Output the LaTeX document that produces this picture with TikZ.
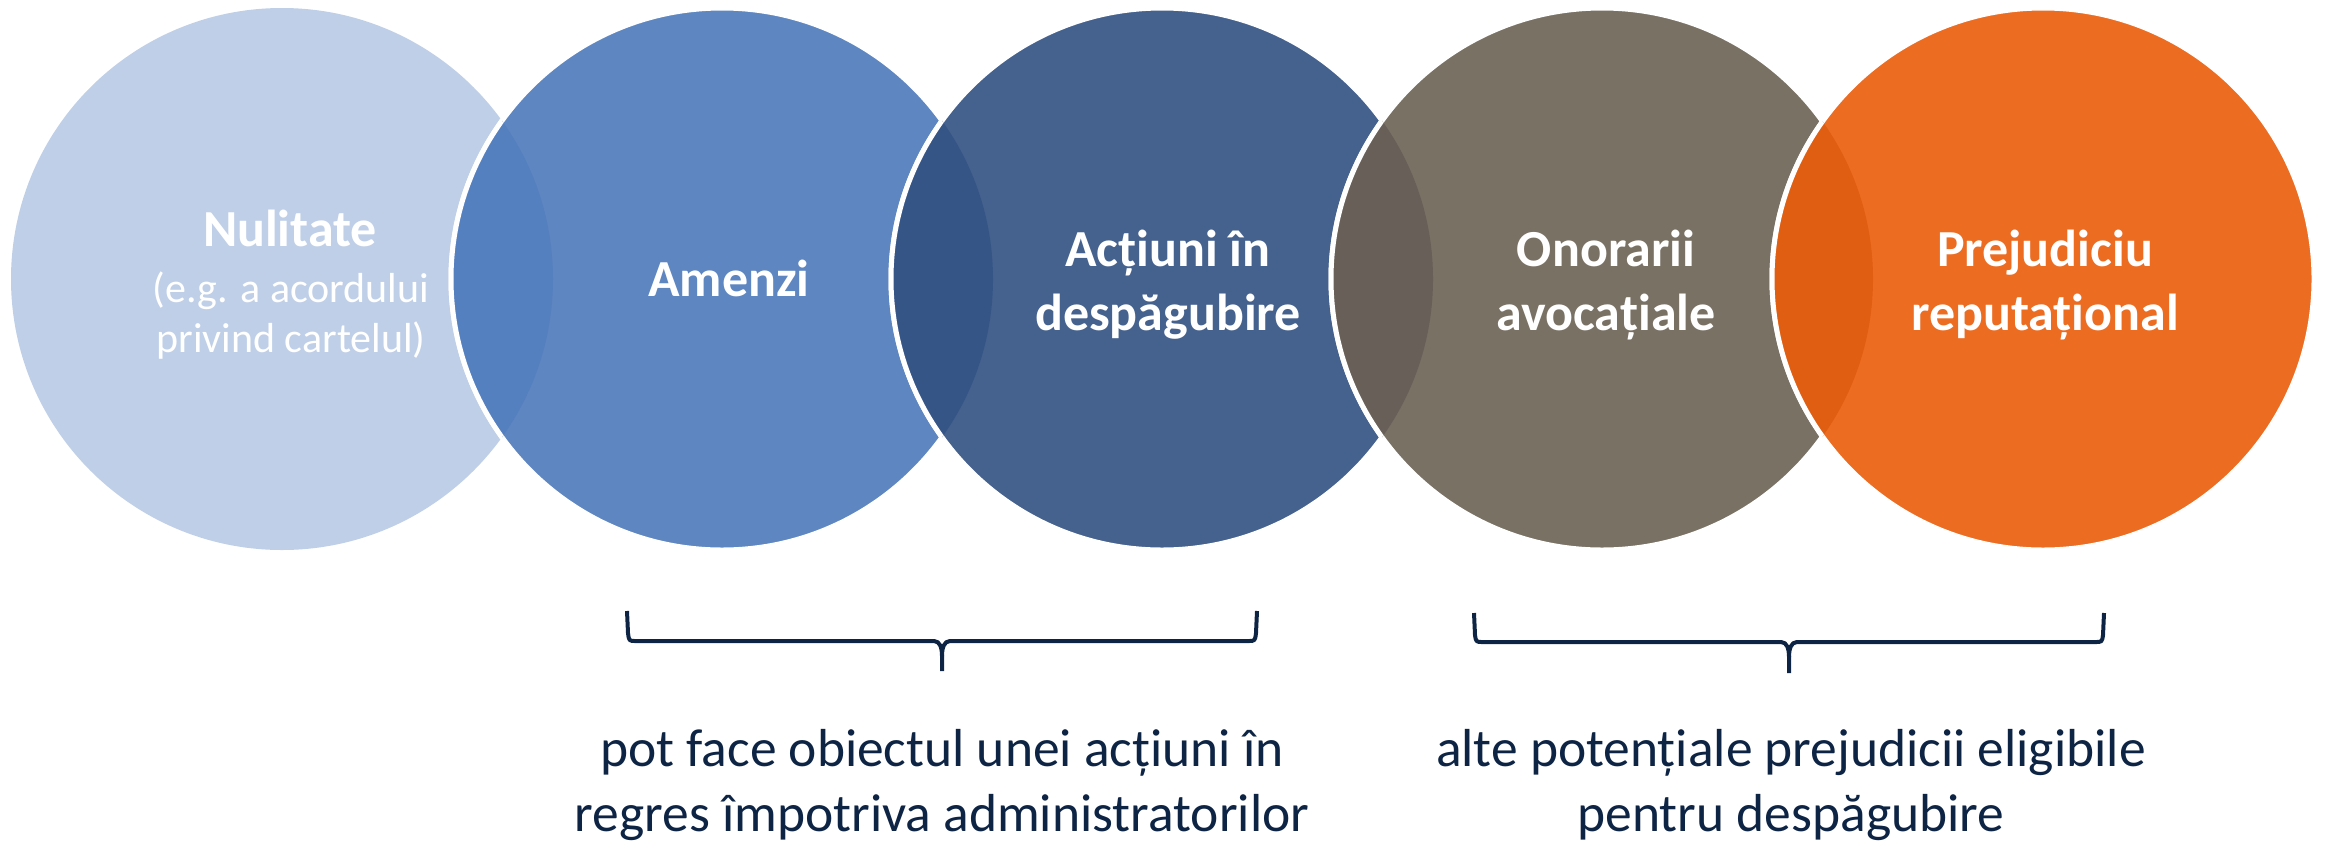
\documentclass[tikz,border=0pt]{standalone}
\usepackage{fontspec}
\setmainfont{Carlito}
\definecolor{cA}{HTML}{BFCFE7}
\definecolor{cB}{HTML}{5E86C1}
\definecolor{cC}{HTML}{45628E}
\definecolor{cD}{HTML}{7A7165}
\definecolor{cE}{HTML}{EC6C22}
\definecolor{lAB}{HTML}{5580BF}
\definecolor{lBC}{HTML}{365587}
\definecolor{lCD}{HTML}{675F58}
\definecolor{lDE}{HTML}{E05E12}
\definecolor{navy}{HTML}{0D2444}
\tikzset{
  ring/.style={draw=white, line width=5pt},
  ttl/.style={text=white, font=\bfseries\fontsize{52}{64}\selectfont, align=center, inner sep=0pt, anchor=base},
  subttl/.style={text=white, font=\fontsize{42}{50}\selectfont, align=center, inner sep=0pt, anchor=base},
  lowtxt/.style={text=navy, font=\fontsize{53.5}{65}\selectfont, align=center, inner sep=0pt, anchor=base},
  bracepath/.style={draw=navy, line width=4pt, line join=round}
}
\newcommand{\lens}[3]{%
  \begin{scope}\clip (#2) circle[radius=271pt]; \fill[#3] (#1) circle[radius=271pt];\end{scope}%
  \begin{scope}\clip (#1) circle[radius=271pt]; \draw[ring] (#2) circle[radius=271pt];\end{scope}%
}
\begin{document}
\begin{tikzpicture}[x=1pt,y=-1pt]
\useasboundingbox (0,0) rectangle (2326,844);
\coordinate (c1) at (282,279);
\coordinate (c2) at (722,279);
\coordinate (c3) at (1162,279);
\coordinate (c4) at (1602,279);
\coordinate (c5) at (2043,279);
% circles
\fill[cA] (c1) circle[radius=271pt];
\filldraw[fill=cB, ring] (c2) circle[radius=271pt];
\lens{c1}{c2}{lAB}
\filldraw[fill=cC, ring] (c3) circle[radius=271pt];
\lens{c2}{c3}{lBC}
\filldraw[fill=cD, ring] (c4) circle[radius=271pt];
\lens{c3}{c4}{lCD}
\filldraw[fill=cE, ring] (c5) circle[radius=271pt];
\lens{c4}{c5}{lDE}
% texts (base anchor = baseline of last line)
\node[ttl] (t1) at (290,246) {Nulitate};
\node[subttl] (s1) at (291,352) {(e.g. a acordului\\privind cartelul)};
\node[ttl] (t2) at (729,296) {Amenzi};
\node[ttl] (t3) at (1168,330) {Acțiuni în\\despăgubire};
\node[ttl] (t4) at (1606,330) {Onorarii\\avocațiale};
\node[ttl] (t5) at (2045,330) {Prejudiciu\\reputațional};
% braces
\coordinate (b1l) at (627,611);
\coordinate (b1r) at (1257,611);
\coordinate (b1m) at (942,671);
\draw[bracepath] (b1l) -- ++(1,22) .. controls ++(1,8) .. ++(8,8) -- (934,641)
  .. controls (940,641) and (942,648) .. (942,656) -- (b1m);
\draw[bracepath] (b1r) -- ++(-1,22) .. controls ++(-1,8) .. ++(-8,8) -- (950,641)
  .. controls (944,641) and (942,648) .. (942,656);
\coordinate (b2l) at (1474,613);
\coordinate (b2r) at (2104,613);
\coordinate (b2m) at (1789,673);
\draw[bracepath] (b2l) -- ++(1,22) .. controls ++(1,7) .. ++(8,7) -- (1781,642)
  .. controls (1787,642) and (1789,649) .. (1789,657) -- (b2m);
\draw[bracepath] (b2r) -- ++(-1,22) .. controls ++(-1,7) .. ++(-8,7) -- (1797,642)
  .. controls (1791,642) and (1789,649) .. (1789,657);
% lower texts
\node[lowtxt] (n1) at (942,831) {pot face obiectul unei acțiuni în\\regres împotriva administratorilor};
\node[lowtxt] (n2) at (1791,831) {alte potențiale prejudicii eligibile\\pentru despăgubire};
\end{tikzpicture}
\end{document}
